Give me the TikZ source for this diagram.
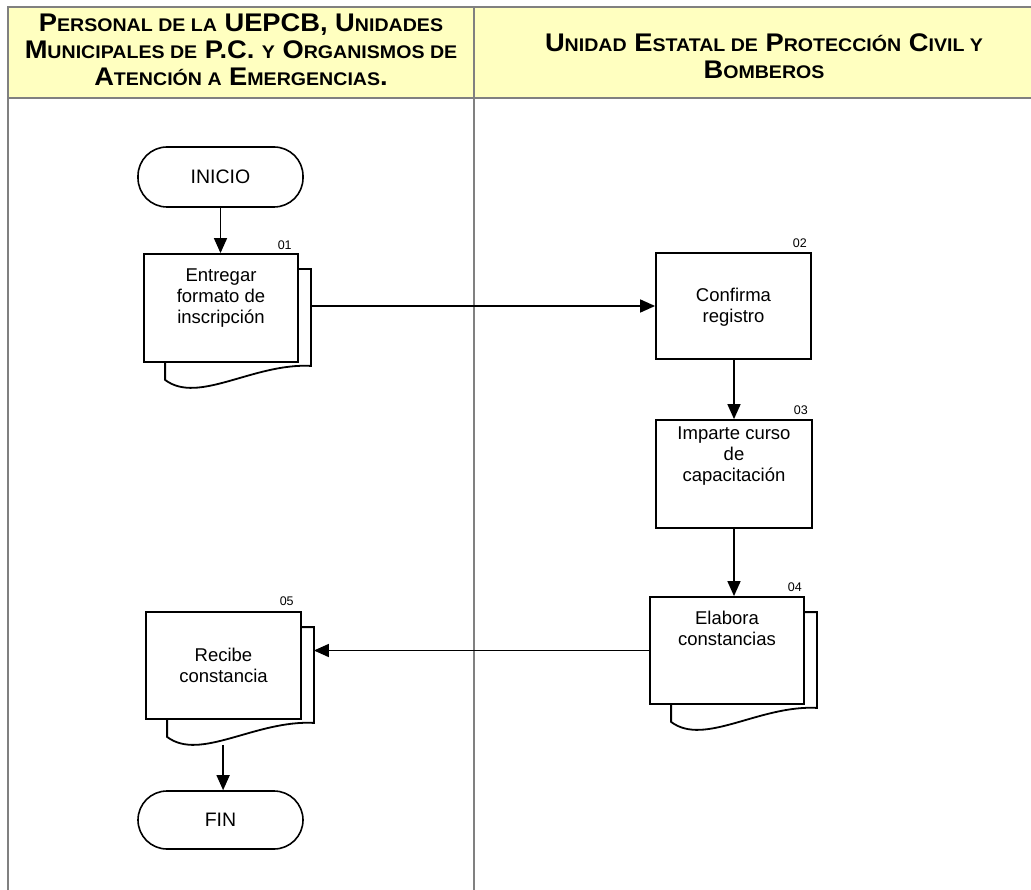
\documentclass[tikz,border=0pt]{standalone}
\usepackage{fontspec}
\setmainfont{Liberation Sans}
\newfontfamily\hdrfont[FakeStretch=1.07]{Liberation Sans Bold}
\usetikzlibrary{arrows.meta,calc}
\definecolor{hdryellow}{RGB}{255,255,192}
\definecolor{lanegray}{RGB}{128,128,128}
\newcommand\hsc[1]{{\fontsize{18.3}{27}\selectfont #1}}
\tikzset{
  box/.style={draw, line width=1.8pt, fill=white, inner sep=0pt},
  term/.style={draw, line width=1.6pt, rounded corners=29pt, minimum width=165pt, inner sep=0pt, font=\fontsize{19.5}{22}\selectfont},
  shp/.style={line width=1.8pt},
  flow/.style={line width=1.6pt, -{Triangle[length=15pt,width=13pt]}},
  num/.style={font=\fontsize{12.5}{14}\selectfont, anchor=base east, inner sep=0pt},
  txt/.style={align=center, font=\fontsize{18.5}{21}\selectfont, inner sep=0pt},
  hdr/.style={align=center, font=\hdrfont\fontsize{25.5}{27}\selectfont, inner sep=0pt},
  lane/.style={draw=lanegray, line width=2.2pt}
}
\begin{document}
\begin{tikzpicture}[x=1pt,y=-1pt]
\useasboundingbox (0,0) rectangle (1031,890);
% header
\fill[hdryellow] (8,7) rectangle (1031,98);
\draw[lane] (1031,7) -- (8,7) -- (8,890);
\draw[lane] (8,98) -- (1031,98);
\draw[lane] (474,7) -- (474,890);
\node[hdr] (h1) at (241,50) {P\hsc{ERSONAL DE LA} UEPCB, U\hsc{NIDADES}\\M\hsc{UNICIPALES DE} P.C. \hsc{Y} O\hsc{RGANISMOS DE}\\A\hsc{TENCIÓN A} E\hsc{MERGENCIAS}.};
\node[hdr] (h2) at (764,56) {U\hsc{NIDAD} E\hsc{STATAL DE} P\hsc{ROTECCIÓN} C\hsc{IVIL Y}\\B\hsc{OMBEROS}};

% terminals
\node[term, minimum height=60pt] (ini) at (220.5,177) {INICIO};
\node[term, minimum height=58pt] (fin) at (220.5,820) {FIN};

% boxes
\node[box, minimum width=154pt, minimum height=108pt] (b1) at (221,308) {};
\node[box, minimum width=155pt, minimum height=106pt] (b2) at (733.5,306) {};
\node[box, minimum width=156pt, minimum height=108pt] (b3) at (734,474) {};
\node[box, minimum width=154pt, minimum height=107pt] (b4) at (727,650.5) {};
\node[box, minimum width=155pt, minimum height=107pt] (b5) at (223.5,665.5) {};

% stacked document backs
\foreach \b in {b1,b4,b5}{
  \draw[shp] ($(\b.north east)+(0,16)$) -- ++(12,0)
    -- ($(\b.south east)+(12,3)$)
    .. controls ($(\b.south west)+(110,0)$) and ($(\b.south west)+(55,42)$) .. ($(\b.south west)+(22,17)$)
    -- ($(\b.south west)+(22,0)$);
}
\coordinate (b1r) at ($(b1.east)+(12,-2)$);
\coordinate (b5r) at ($(b5.east)+(12,0)$);
\coordinate (w5) at ($(b5.south west)+(78,25)$);

% texts
\node[txt] (t1) at (221,298) {Entregar\\formato de\\inscripción};
\node[txt] (t2) at (733.5,307) {Confirma\\registro};
\node[txt] (t3) at (734,456) {Imparte curso\\de\\capacitación};
\node[txt] (t4) at (727,628) {Elabora\\constancias};
\node[txt] (t5) at (223.5,665) {Recibe\\constancia};

% numbers
\node[num] (n1) at ($(b1.north east)+(-7,-4)$) {01};
\node[num] (n2) at ($(b2.north east)+(-5,-5)$) {02};
\node[num] (n3) at ($(b3.north east)+(-5,-5)$) {03};
\node[num] (n4) at ($(b4.north east)+(-3,-5)$) {04};
\node[num] (n5) at ($(b5.north east)+(-8,-6)$) {05};

% connectors
\draw[flow] (ini.south) -- (ini.south |- b1.north);
\draw[flow] (b1r) -- (b1r -| b2.west);
\draw[flow] (b2.south -| b3.south) -- (b3.north);
\draw[flow] (b3.south) -- (b3.south |- b4.north);
\draw[flow] (b4.west) -- (b4.west -| b5r);
\draw[flow] (w5) -- (w5 |- fin.north);
\end{tikzpicture}
\end{document}
